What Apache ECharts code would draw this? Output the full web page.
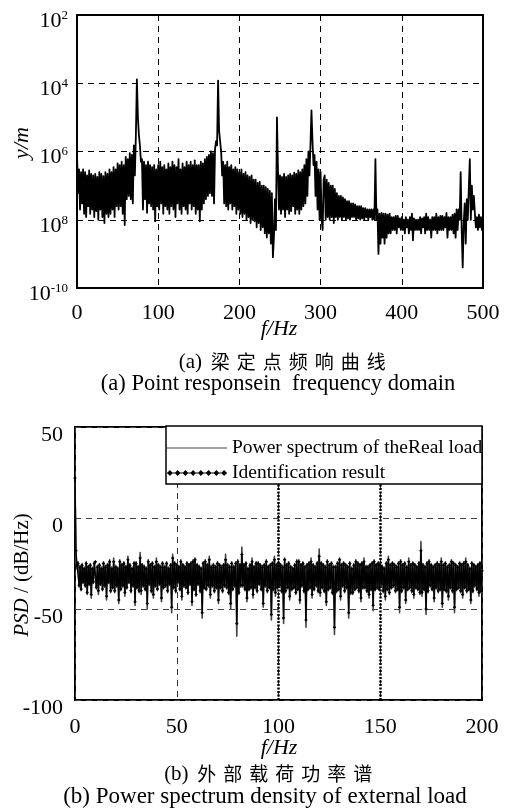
<!DOCTYPE html>
<html><head><meta charset="utf-8">
<script src="https://cdn.jsdelivr.net/npm/echarts@6/dist/echarts.min.js"></script>
<style>html,body{margin:0;padding:0;background:#fff;}#c{width:513px;height:810px;}</style>
</head><body><div id="c"></div>
<script>
// ---------- (a) Point response in frequency domain ----------
const respFreq = [
  0,1.25,2.5,3.75,5,6.25,7.5,8.75, 10,11.25,12.5,13.75,15,16.25,17.5,18.75,
  20,21.25,22.5,23.75,25,26.25,27.5,28.75, 30,31.25,32.5,33.75,35,36.25,37.5,38.75,
  40,41.25,42.5,43.75,45,46.25,47.5,48.75, 50,51.25,52.5,53.75,55,56.25,57.5,58.75,
  60,61.25,62.5,63.75,65,66.25,67.5,68.75, 70,71.25,72.5,73.75,75,76.25,77.5,78.75,
  80,81.25,82.5,83.75,85,86.25,87.5,88.75, 90,91.25,92.5,93.75,95,96.25,97.5,98.75,
  100,101.25,102.5,103.75,105,106.25,107.5,108.75, 110,111.25,112.5,113.75,115,116.25,117.5,118.75,
  120,121.25,122.5,123.75,125,126.25,127.5,128.75, 130,131.25,132.5,133.75,135,136.25,137.5,138.75,
  140,141.25,142.5,143.75,145,146.25,147.5,148.75, 150,151.25,152.5,153.75,155,156.25,157.5,158.75,
  160,161.25,162.5,163.75,165,166.25,167.5,168.75, 170,171.25,172.5,173.75,175,176.25,177.5,178.75,
  180,181.25,182.5,183.75,185,186.25,187.5,188.75, 190,191.25,192.5,193.75,195,196.25,197.5,198.75,
  200,201.25,202.5,203.75,205,206.25,207.5,208.75, 210,211.25,212.5,213.75,215,216.25,217.5,218.75,
  220,221.25,222.5,223.75,225,226.25,227.5,228.75, 230,231.25,232.5,233.75,235,236.25,237.5,238.75,
  240,241.25,242.5,243.75,245,246.25,247.5,248.75, 250,251.25,252.5,253.75,255,256.25,257.5,258.75,
  260,261.25,262.5,263.75,265,266.25,267.5,268.75, 270,271.25,272.5,273.75,275,276.25,277.5,278.75,
  280,281.25,282.5,283.75,285,286.25,287.5,288.75, 290,291.25,292.5,293.75,295,296.25,297.5,298.75,
  300,301.25,302.5,303.75,305,306.25,307.5,308.75, 310,311.25,312.5,313.75,315,316.25,317.5,318.75,
  320,321.25,322.5,323.75,325,326.25,327.5,328.75, 330,331.25,332.5,333.75,335,336.25,337.5,338.75,
  340,341.25,342.5,343.75,345,346.25,347.5,348.75, 350,351.25,352.5,353.75,355,356.25,357.5,358.75,
  360,361.25,362.5,363.75,365,366.25,367.5,368.75, 370,371.25,372.5,373.75,375,376.25,377.5,378.75,
  380,381.25,382.5,383.75,385,386.25,387.5,388.75, 390,391.25,392.5,393.75,395,396.25,397.5,398.75,
  400,401.25,402.5,403.75,405,406.25,407.5,408.75, 410,411.25,412.5,413.75,415,416.25,417.5,418.75,
  420,421.25,422.5,423.75,425,426.25,427.5,428.75, 430,431.25,432.5,433.75,435,436.25,437.5,438.75,
  440,441.25,442.5,443.75,445,446.25,447.5,448.75, 450,451.25,452.5,453.75,455,456.25,457.5,458.75,
  460,461.25,462.5,463.75,465,466.25,467.5,468.75, 470,471.25,472.5,473.75,475,476.25,477.5,478.75,
  480,481.25,482.5,483.75,485,486.25,487.5,488.75, 490,491.25,492.5,493.75,495,496.25,497.5,498.75,
  500
];
const respAmp = [
  9e-7,6e-8,3e-7,2e-8,2.5e-7,3e-8,3e-7,1.5e-8, 2.5e-7,1.2e-8,2e-7,2.5e-8,2.8e-7,1.5e-8,2.2e-7,2e-8,
  2e-7,1.2e-8,2.2e-7,1.8e-8,1.8e-7,1e-8,2.5e-7,2e-8, 2.2e-7,1.2e-8,1.9e-7,8e-9,2.5e-7,1.5e-8,2.2e-7,1.2e-8,
  3e-7,1.5e-8,2.5e-7,2e-8,3.5e-7,1.2e-8,3e-7,2.5e-8, 4.5e-7,2e-8,4e-7,2.5e-8,5e-7,1.5e-8,4e-7,7e-9,
  7e-7,4e-8,6e-7,5e-8,9e-7,4e-8,8e-7,3e-8, 1.5e-6,2e-7,3e-6,1.3e-4,1e-5,3e-6,1.5e-6,5e-7,
  6e-7,2e-8,5e-7,4e-8,4e-7,1.6e-8,5e-7,3e-8, 4e-7,2.5e-8,3.5e-7,2e-8,4e-7,9e-9,3e-7,2.5e-8,
  4e-7,2e-8,5e-7,3e-8,3.5e-7,1.5e-8,4e-7,2.5e-8, 3e-7,2e-8,4.5e-7,1.5e-8,3.5e-7,2.5e-8,5e-7,2e-8,
  4e-7,1.2e-8,3.5e-7,3e-8,6e-7,2e-8,3e-7,1.5e-8, 4.5e-7,2.5e-8,3.5e-7,2e-8,5e-7,1.5e-8,4e-7,3e-8,
  5e-7,2e-8,4e-7,2.5e-8,5.5e-7,1.5e-8,4e-7,2e-8, 4e-7,9e-9,5e-7,2e-8,4.5e-7,3e-8,6e-7,4e-8,
  7e-7,5e-8,8e-7,6e-8,1e-6,5e-8,9e-7,3e-8, 1.2e-6,2e-6,1.5e-6,1.2e-4,4e-6,2e-6,1e-6,2e-7,
  5e-7,3e-8,4e-7,2.5e-8,5e-7,2e-8,3.5e-7,3e-8, 4e-7,2e-8,3e-7,2.5e-8,3.5e-7,1.5e-8,3e-7,2e-8,
  2.5e-7,1.5e-8,3e-7,1.2e-8,2.2e-7,1.5e-8,2.5e-7,1e-8, 2e-7,1.2e-8,1.8e-7,8e-9,2e-7,1e-8,1.5e-7,9e-9,
  1.5e-7,6e-9,1.2e-7,8e-9,1.3e-7,5e-9,1e-7,6e-9, 1e-7,4e-9,9e-8,3e-9,8e-8,4e-9,7e-8,2e-9,
  6e-8,8e-10,3e-9,4e-8,5e-9,1e-5,3e-7,2e-8, 2e-7,1.5e-8,1.8e-7,2e-8,2.2e-7,1.2e-8,1.8e-7,2e-8,
  2e-7,1.5e-8,2.2e-7,1.8e-8,2e-7,2.5e-8,2.4e-7,1.5e-8, 2.2e-7,2e-8,2.8e-7,1.5e-8,2.5e-7,2e-8,3e-7,2.5e-8,
  4e-7,3e-8,6e-7,5e-8,1e-6,2e-7,1.5e-6,1.6e-5, 2e-6,4e-7,8e-7,5e-8,5e-7,2e-8,3e-7,1e-8,
  2.5e-7,1e-8,5e-9,1.5e-7,2e-7,1e-8,1.5e-7,1.2e-8, 1.2e-7,1e-8,1e-7,1.2e-8,1e-7,8e-9,8e-8,1.2e-8,
  6e-8,1e-8,5e-8,1.2e-8,5e-8,1e-8,4.5e-8,1.2e-8, 4e-8,1e-8,3.5e-8,1.1e-8,3.5e-8,1e-8,3e-8,1.2e-8,
  3e-8,1.2e-8,2.8e-8,1e-8,2.5e-8,1.1e-8,2.5e-8,1e-8, 2.5e-8,1.1e-8,2.2e-8,1e-8,2.2e-8,1.2e-8,2e-8,1e-8,
  2e-8,1.2e-8,2e-8,1e-8,2e-8,1e-8,6e-7,1e-8, 2e-8,1e-9,1.5e-8,2e-9,1.6e-8,3e-9,1.5e-8,2e-9,
  1.5e-8,3e-9,1.4e-8,4e-9,1.5e-8,4e-9,1.2e-8,5e-9, 1.2e-8,5e-9,1.3e-8,4e-9,1.3e-8,6e-9,1.1e-8,5e-9,
  1.2e-8,5e-9,1e-8,4e-9,1.2e-8,6e-9,1e-8,4e-9, 1.2e-8,5e-9,1.5e-8,2.5e-9,1.1e-8,5e-9,1e-8,5e-9,
  1e-8,5e-9,1.2e-8,4e-9,1.1e-8,6e-9,1.2e-8,4e-9, 1.5e-8,5e-9,1.2e-8,5e-9,1e-8,3e-9,1.2e-8,5e-9,
  1.2e-8,5e-9,1.5e-8,4e-9,1.2e-8,5e-9,1.3e-8,5e-9, 1.3e-8,5e-9,1.2e-8,6e-9,1.6e-8,3e-9,1.2e-8,5e-9,
  1.2e-8,5e-9,1.4e-8,4e-9,1.5e-8,3e-9,2e-8,5e-9, 2e-8,1e-8,2.5e-7,5e-9,4e-10,8e-9,3e-8,2e-9,
  4e-8,1e-8,8e-8,6e-7,1e-8,1e-7,2e-8,5e-8, 1.5e-8,6e-9,1.2e-8,5e-9,1.4e-8,6e-9,1.2e-8,5e-9,
  8e-9
];
const respRefLevel = 1e-6;
const respYTickLabels = [['10','-10'],['10','8'],['10','6'],['10','4'],['10','2']];

// ---------- (b) Power spectrum density of external load ----------
const psdFreq = [
  0,0.5,1,1.5,2,2.5,3,3.5,4,4.5,5,5.5,6,6.5,7,7.5,8,8.5,9,9.5,
  10,10.5,11,11.5,12,12.5,13,13.5,14,14.5,15,15.5,16,16.5,17,17.5,18,18.5,19,19.5,
  20,20.5,21,21.5,22,22.5,23,23.5,24,24.5,25,25.5,26,26.5,27,27.5,28,28.5,29,29.5,
  30,30.5,31,31.5,32,32.5,33,33.5,34,34.5,35,35.5,36,36.5,37,37.5,38,38.5,39,39.5,
  40,40.5,41,41.5,42,42.5,43,43.5,44,44.5,45,45.5,46,46.5,47,47.5,48,48.5,49,49.5,
  50,50.5,51,51.5,52,52.5,53,53.5,54,54.5,55,55.5,56,56.5,57,57.5,58,58.5,59,59.5,
  60,60.5,61,61.5,62,62.5,63,63.5,64,64.5,65,65.5,66,66.5,67,67.5,68,68.5,69,69.5,
  70,70.5,71,71.5,72,72.5,73,73.5,74,74.5,75,75.5,76,76.5,77,77.5,78,78.5,79,79.5,
  80,80.5,81,81.5,82,82.5,83,83.5,84,84.5,85,85.5,86,86.5,87,87.5,88,88.5,89,89.5,
  90,90.5,91,91.5,92,92.5,93,93.5,94,94.5,95,95.5,96,96.5,97,97.5,98,98.5,99,99.5,
  100,100.5,101,101.5,102,102.5,103,103.5,104,104.5,105,105.5,106,106.5,107,107.5,108,108.5,109,109.5,
  110,110.5,111,111.5,112,112.5,113,113.5,114,114.5,115,115.5,116,116.5,117,117.5,118,118.5,119,119.5,
  120,120.5,121,121.5,122,122.5,123,123.5,124,124.5,125,125.5,126,126.5,127,127.5,128,128.5,129,129.5,
  130,130.5,131,131.5,132,132.5,133,133.5,134,134.5,135,135.5,136,136.5,137,137.5,138,138.5,139,139.5,
  140,140.5,141,141.5,142,142.5,143,143.5,144,144.5,145,145.5,146,146.5,147,147.5,148,148.5,149,149.5,
  150,150.5,151,151.5,152,152.5,153,153.5,154,154.5,155,155.5,156,156.5,157,157.5,158,158.5,159,159.5,
  160,160.5,161,161.5,162,162.5,163,163.5,164,164.5,165,165.5,166,166.5,167,167.5,168,168.5,169,169.5,
  170,170.5,171,171.5,172,172.5,173,173.5,174,174.5,175,175.5,176,176.5,177,177.5,178,178.5,179,179.5,
  180,180.5,181,181.5,182,182.5,183,183.5,184,184.5,185,185.5,186,186.5,187,187.5,188,188.5,189,189.5,
  190,190.5,191,191.5,192,192.5,193,193.5,194,194.5,195,195.5,196,196.5,197,197.5,198,198.5,199,199.5,
  200
];
const psdReal = [
  20,-22,-28,-24,-38,-26,-40,-25,-36,-27,-38,-24,-42,-26,-37,-25,-44,-27,-36,-24,
  -23,-39,-26,-42,-25,-37,-27,-40,-24,-38,-26,-45,-25,-36,-23,-41,-27,-39,-22,-41,
  -26,-38,-27,-47,-23,-40,-25,-38,-24,-43,-26,-39,-21,-36,-25,-41,-27,-38,-24,-48,
  -24,-39,-26,-41,-19,-42,-25,-38,-26,-40,-27,-50,-23,-37,-25,-41,-24,-44,-26,-38,
  -22,-40,-25,-37,-26,-46,-24,-39,-26,-38,-24,-41,-27,-37,-25,-52,-20,-39,-24,-41,
  -25,-36,-26,-40,-23,-45,-25,-38,-26,-39,-24,-42,-25,-37,-24,-48,-23,-40,-22,-43,
  -25,-37,-26,-41,-27,-55,-24,-39,-23,-40,-25,-38,-21,-44,-26,-38,-25,-41,-26,-39,
  -24,-47,-25,-39,-26,-41,-25,-38,-20,-39,-25,-42,-26,-50,-24,-40,-26,-38,-24,-65,
  -23,-42,-25,-38,-16,-38,-25,-40,-24,-46,-27,-40,-25,-39,-22,-44,-26,-39,-24,-41,
  -24,-37,-25,-40,-26,-49,-25,-38,-23,-41,-26,-39,-25,-56,-24,-40,-21,-43,-25,-39,
  -24,-38,-25,-41,-26,-58,-22,-41,-25,-39,-24,-45,-26,-40,-27,-39,-25,-42,-23,-40,
  -23,-47,-25,-38,-24,-41,-26,-60,-25,-40,-24,-39,-22,-44,-25,-40,-26,-38,-24,-41,
  -17,-43,-24,-39,-25,-41,-26,-48,-23,-40,-25,-39,-24,-42,-26,-64,-26,-41,-24,-40,
  -22,-45,-25,-38,-24,-41,-25,-39,-26,-55,-24,-42,-27,-42,-25,-40,-23,-39,-24,-41,
  -25,-46,-24,-39,-22,-39,-26,-41,-26,-44,-25,-40,-24,-51,-23,-40,-25,-39,-24,-40,
  -25,-37,-26,-41,-27,-45,-24,-40,-21,-42,-25,-39,-24,-38,-25,-41,-26,-40,-24,-52,
  -23,-41,-25,-39,-24,-47,-26,-40,-22,-39,-25,-41,-24,-44,-25,-39,-26,-40,-24,-42,
  -13,-43,-25,-40,-26,-53,-24,-41,-23,-38,-25,-40,-26,-46,-25,-39,-24,-41,-25,-40,
  -22,-49,-25,-40,-24,-41,-26,-45,-25,-39,-23,-41,-24,-52,-25,-40,-26,-39,-24,-41,
  -25,-44,-24,-39,-22,-41,-25,-40,-27,-47,-24,-41,-25,-38,-26,-40,-25,-43,-24,-41,
  -28
];
const psdIdent = [
  22,-18,-26,-25,-37,-27,-39,-26,-35,-28,-37,-25,-41,-27,-36,-26,-42,-28,-35,-25,
  -24,-38,-27,-40,-26,-36,-28,-39,-25,-37,-27,-43,-26,-35,-24,-40,-28,-38,-24,-40,
  -27,-37,-28,-45,-24,-39,-26,-37,-25,-41,-27,-38,-23,-35,-26,-40,-28,-37,-25,-46,
  -25,-38,-27,-40,-22,-40,-26,-37,-27,-39,-28,-47,-24,-36,-26,-40,-25,-42,-27,-37,
  -24,-39,-26,-36,-27,-44,-25,-38,-27,-37,-25,-40,-28,-36,-26,-49,-22,-38,-25,-40,
  -26,-35,-27,-39,-24,-43,-26,-37,-27,-38,-25,-41,-26,-36,-25,-46,-24,-39,-23,-42,
  -26,-36,-27,-40,-28,-52,-25,-38,-24,-39,-26,-37,-23,-42,-27,-37,-26,-40,-27,-38,
  -25,-45,-26,-38,-27,-40,-26,-37,-23,-38,-26,-41,-27,-47,-25,-39,-27,-37,-25,-58,
  -24,-41,-26,-37,-20,-37,-26,-39,-25,-44,-28,-39,-26,-38,-24,-42,-27,-38,-25,-40,
  -25,-36,-26,-39,-27,-47,-26,-37,-24,-40,-27,-38,-26,-53,-25,-39,-23,-41,-26,-38,
  -25,-37,-26,-40,-27,-55,-23,-40,-26,-38,-25,-43,-27,-39,-28,-38,-26,-41,-24,-39,
  -24,-45,-26,-37,-25,-40,-27,-56,-26,-39,-25,-38,-24,-42,-26,-39,-27,-37,-25,-40,
  -21,-41,-25,-38,-26,-40,-27,-46,-24,-39,-26,-38,-25,-41,-27,-60,-27,-40,-25,-39,
  -23,-43,-26,-37,-25,-40,-26,-38,-27,-52,-25,-41,-28,-41,-26,-39,-24,-38,-25,-40,
  -26,-44,-25,-38,-24,-38,-27,-40,-27,-42,-26,-39,-25,-48,-24,-39,-26,-38,-25,-39,
  -26,-36,-27,-40,-28,-43,-25,-39,-23,-41,-26,-38,-25,-37,-26,-40,-27,-39,-25,-49,
  -24,-40,-26,-38,-25,-45,-27,-39,-24,-38,-26,-40,-25,-42,-26,-38,-27,-39,-25,-41,
  -18,-41,-26,-39,-27,-50,-25,-40,-24,-37,-26,-39,-27,-44,-26,-38,-25,-40,-26,-39,
  -24,-47,-26,-39,-25,-40,-27,-43,-26,-38,-24,-40,-25,-49,-26,-39,-27,-38,-25,-40,
  -26,-42,-25,-38,-24,-40,-26,-39,-28,-45,-25,-40,-26,-37,-27,-39,-26,-41,-25,-40,
  -29
];
const psdMarkedFreqs = [100, 150];
const seriesNames = ['Power spectrum of theReal load', 'Identification result'];

const SERIF = '"Liberation Serif","Times New Roman",serif';
const CJKF = '"Noto Sans CJK SC",sans-serif';

const zip = (xs, ys) => xs.map((x, i) => [x, ys[i]]);

const lineIcon = 'path://M0,0h0.01v0.01h-0.01Z M0,2.4H62V3.6H0Z M0,6h0.01v0.01h-0.01Z';
const diamondIcon = 'path://M0,3L3,0L6,3L3,6Z M8,3L11,0L14,3L11,6Z M16,3L19,0L22,3L19,6Z M24,3L27,0L30,3L27,6Z M32,3L35,0L38,3L35,6Z M40,3L43,0L46,3L43,6Z M48,3L51,0L54,3L51,6Z M56,3L59,0L62,3L59,6Z M0,2.6H62V3.4H0Z';

function cjkRich(s) { return s.split('').map(ch => '{c|' + ch + '}').join(''); }

const chart = echarts.init(document.getElementById('c'), null, {renderer: 'canvas'});
const axisLabelBase = {color: '#000', fontFamily: SERIF, fontSize: 22};

chart.setOption({
  animation: false,
  backgroundColor: '#fff',
  grid: [
    {left: 77, top: 15, width: 406, height: 273, show: true, borderColor: '#000', borderWidth: 2, backgroundColor: 'transparent'},
    {left: 75, top: 427, width: 407, height: 273, show: true, borderColor: '#000', borderWidth: 2, backgroundColor: 'transparent'}
  ],
  xAxis: [
    {gridIndex: 0, type: 'value', min: 0, max: 500, interval: 100,
      axisLine: {show: false}, axisTick: {show: false},
      axisLabel: Object.assign({margin: 14}, axisLabelBase),
      splitLine: {show: true, lineStyle: {type: [6, 5], color: '#000', width: 1}}},
    {gridIndex: 1, type: 'value', min: 0, max: 200, interval: 50,
      axisLine: {show: false}, axisTick: {show: false},
      axisLabel: Object.assign({margin: 16}, axisLabelBase),
      splitLine: {show: true, lineStyle: {type: [6, 5], color: '#333', width: 1}}}
  ],
  yAxis: [
    {gridIndex: 0, type: 'log', logBase: 10, min: 1e-10, max: 1e-2, interval: 2, splitNumber: 4,
      axisLine: {show: false}, axisTick: {show: false}, minorTick: {show: false},
      axisLabel: {margin: 9, padding: [12, 0, 0, 0],
        formatter: function (v) {
          const i = Math.round((Math.log10(v) + 10) / 2);
          const t = respYTickLabels[i];
          return t ? '{b|' + t[0] + '}{s|' + t[1] + '}' : '';
        },
        rich: {
          b: {fontFamily: SERIF, fontSize: 22, color: '#000', lineHeight: 24},
          s: {fontFamily: SERIF, fontSize: 13, color: '#000', verticalAlign: 'top', lineHeight: 14}
        }},
      splitLine: {show: true, lineStyle: {type: [6, 5], color: '#000', width: 1}}},
    {gridIndex: 1, type: 'value', min: -100, max: 50, interval: 50,
      axisLine: {show: false}, axisTick: {show: false},
      axisLabel: {margin: 12, formatter: '{v|{value}}',
        rich: {v: {color: '#000', fontFamily: SERIF, fontSize: 22, padding: [16, 0, 0, 0]}}},
      splitLine: {show: true, lineStyle: {type: [6, 5], color: '#444', width: 1}}}
  ],
  legend: {
    left: 167, top: 438, orient: 'vertical', itemWidth: 60, itemHeight: 6, itemGap: 5, padding: 0, z: 20,
    textStyle: {fontFamily: SERIF, fontSize: 19.5, color: '#000', lineHeight: 19},
    data: [{name: seriesNames[0], icon: lineIcon, itemStyle: {color: '#444'}}, {name: seriesNames[1], icon: diamondIcon}]
  },
  series: [
    {name: 'response', type: 'line', xAxisIndex: 0, yAxisIndex: 0, data: zip(respFreq, respAmp),
      symbol: 'none', lineStyle: {color: '#000', width: 1.8, join: 'round'}, z: 3,
      markLine: {silent: true, symbol: 'none', label: {show: false},
        lineStyle: {type: [1.5, 1.5], color: '#000', width: 3},
        data: [{yAxis: respRefLevel}]}},
    {name: seriesNames[0], type: 'line', xAxisIndex: 1, yAxisIndex: 1, data: zip(psdFreq, psdReal),
      symbol: 'none', lineStyle: {color: '#454545', width: 1.6, join: 'round'}, itemStyle: {color: '#454545'}, z: 2},
    {name: seriesNames[1], type: 'line', xAxisIndex: 1, yAxisIndex: 1, data: zip(psdFreq, psdIdent),
      symbol: 'diamond', symbolSize: 3.5, showAllSymbol: true,
      lineStyle: {color: '#000', width: 1.3, join: 'round'}, itemStyle: {color: '#000'}, z: 3,
      markLine: {silent: true, symbol: 'none', label: {show: false},
        lineStyle: {type: [2, 1.5], color: '#000', width: 2.5},
        data: psdMarkedFreqs.map(f => ({xAxis: f}))}}
  ],
  graphic: [
    {type: 'rect', z: 10, shape: {x: 166, y: 426, width: 316, height: 58},
      style: {fill: '#fff', stroke: '#000', lineWidth: 1.5}},
    {type: 'text', x: 22, y: 143, rotation: Math.PI / 2, z: 10,
      style: {text: 'y/m', font: 'italic 22px ' + SERIF, fill: '#000', align: 'center', verticalAlign: 'middle'}},
    {type: 'text', x: 279, y: 329, z: 10,
      style: {text: 'f/Hz', font: 'italic 22px ' + SERIF, fill: '#000', align: 'center', verticalAlign: 'middle'}},
    {type: 'text', x: 284, y: 362, z: 10,
      style: {text: '(a) ' + cjkRich('梁定点频响曲线'), fontFamily: SERIF, fontSize: 21, fill: '#000', align: 'center', verticalAlign: 'middle',
        rich: {c: {fontFamily: CJKF, fontSize: 19, padding: [0, 3.5, 0, 3.5], fill: '#000'}}}},
    {type: 'text', x: 278, y: 384, z: 10,
      style: {text: '(a) Point responsein  frequency domain', fontFamily: SERIF, fontSize: 22.5, fill: '#000', align: 'center', verticalAlign: 'middle'}},
    {type: 'text', x: 22, y: 575, rotation: Math.PI / 2, z: 10,
      style: {text: '{i|PSD} / (dB/Hz)', fontFamily: SERIF, fontSize: 21, fill: '#000', align: 'center', verticalAlign: 'middle',
        rich: {i: {fontStyle: 'italic', fontFamily: SERIF, fontSize: 21, fill: '#000'}}}},
    {type: 'text', x: 279, y: 748, z: 10,
      style: {text: 'f/Hz', font: 'italic 22px ' + SERIF, fill: '#000', align: 'center', verticalAlign: 'middle'}},
    {type: 'text', x: 270, y: 774, z: 10,
      style: {text: '(b) ' + cjkRich('外部载荷功率谱'), fontFamily: SERIF, fontSize: 21, fill: '#000', align: 'center', verticalAlign: 'middle',
        rich: {c: {fontFamily: CJKF, fontSize: 19, padding: [0, 3.5, 0, 3.5], fill: '#000'}}}},
    {type: 'text', x: 265, y: 797, z: 10,
      style: {text: '(b) Power spectrum density of external load', fontFamily: SERIF, fontSize: 23, fill: '#000', align: 'center', verticalAlign: 'middle'}}
  ]
});
</script>
</body></html>
